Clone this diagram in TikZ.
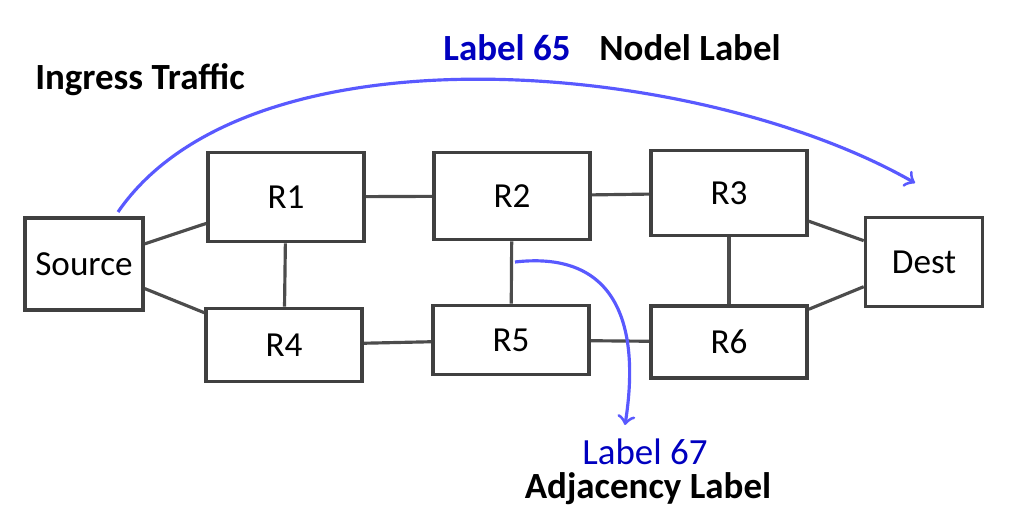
\documentclass[tikz,border=0pt]{standalone}
\usepackage{fontspec}
\setmainfont{Carlito}
\usetikzlibrary{arrows, positioning}
\begin{document}
\begin{tikzpicture}[x=0.01cm, y=-0.01cm, semithick,
  router/.style={draw=black!75, line width=1pt, minimum width=1.56cm, inner sep=0pt, font=\fontsize{10}{12}\selectfont},
  link/.style={draw=black!70, line width=0.9pt},
  flow/.style={draw=blue!65, line width=0.9pt, -{to[scale=2]}},
  lbl/.style={font=\bfseries\fontsize{10.5}{12}\selectfont}]
\useasboundingbox (0,0) rectangle (1024,513);

\node[router, minimum width=1.18cm, minimum height=0.92cm]	(src)	at (84,264)		{Source};
\node[router, minimum height=0.89cm]					(r1)	at (286,197)	{R1};
\node[router, minimum height=0.87cm]					(r2)	at (512,196)	{R2};
\node[router, minimum height=0.85cm]					(r3)	at (729,193)	{R3};
\node[router, minimum width=1.17cm, minimum height=0.89cm]	(dst)	at (924,262)	{Dest};
\node[router, minimum height=0.73cm]					(r4)	at (284,345)	{R4};
\node[router, minimum height=0.69cm]					(r5)	at (511,340)	{R5};
\node[router, minimum height=0.72cm]					(r6)	at (729,342)	{R6};

\draw[link]	(src)	-- (r1);
\draw[link]	(src)	-- (r4);
\draw[link]	(r1)	-- (r2);
\draw[link]	(r2)	-- (r3);
\draw[link]	(r3)	-- (dst);
\draw[link]	(r6)	-- (dst);
\draw[link]	(r1)	-- (r4);
\draw[link]	(r2)	-- (r5);
\draw[link]	(r3)	-- (r6);
\draw[link]	(r4)	-- (r5);
\draw[link]	(r5)	-- (r6);

\coordinate (ingress)	at (118,212);
\coordinate (egress)	at (915,183);
\coordinate (adjA)		at (515,262);
\coordinate (adjB)		at (625,425);
\draw[flow]	(ingress) .. controls (250,20) and (700,60) .. (egress);
\draw[flow]	(adjA) .. controls (620,250) and (640,330) .. (adjB);

\node[lbl]				(ing)	at (140,80)		{Ingress Traffic};
\node[lbl, text=blue!75!black]	(l65)	at (507,48)		{Label 65};
\node[lbl]				(nl)	at (690,48)		{Nodel Label};
\node[font=\fontsize{10.5}{12}\selectfont, text=blue!75!black]	(l67)	at (645,452)	{Label 67};
\node[lbl]				(adj)	at (648,489)	{Adjacency Label};
\end{tikzpicture}
\end{document}
